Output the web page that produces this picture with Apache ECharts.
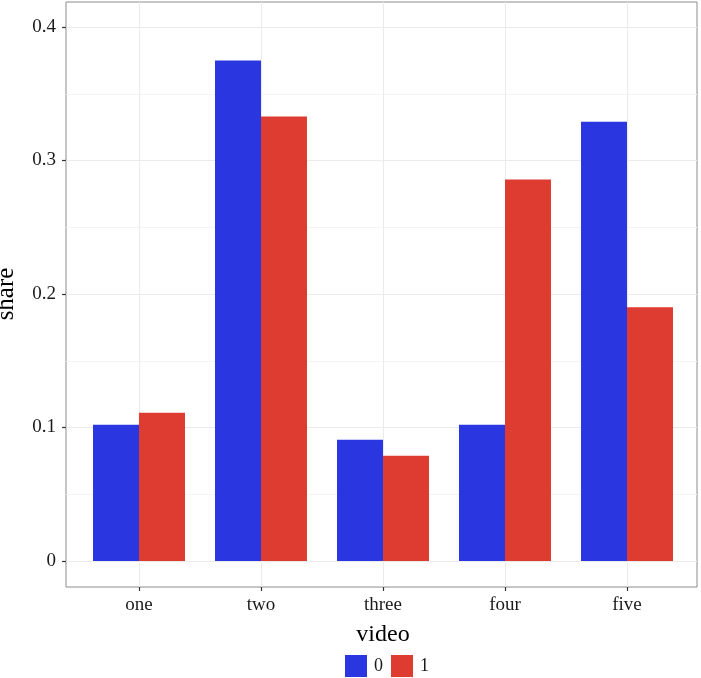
<!DOCTYPE html>
<html>
<head>
<meta charset="utf-8">
<script src="https://cdn.jsdelivr.net/npm/echarts@6/dist/echarts.min.js"></script>
<style>html,body{margin:0;padding:0;background:#fff}#c{width:701px;height:678px}</style>
</head>
<body>
<div id="c"></div>
<script>
const categories = ['one', 'two', 'three', 'four', 'five'];
const share0 = [0.102, 0.375, 0.0909, 0.102, 0.329];
const share1 = [0.111, 0.333, 0.0789, 0.2857, 0.190];
const seriesNames = ['0', '1'];
const yMin = 0, yMax = 0.4, yStep = 0.1;

const FONT = 'Liberation Serif';
const chart = echarts.init(document.getElementById('c'), null, {renderer: 'canvas'});
chart.setOption({
  backgroundColor: '#ffffff',
  animation: false,
  textStyle: {fontFamily: FONT},
  grid: [
    {left: 66, right: 4, top: 2, bottom: 91, outerBoundsMode: 'none', containLabel: false, show: true, borderColor: '#8c8c8c', borderWidth: 1, backgroundColor: 'transparent'},
    {left: 66, right: 4, top: 27, bottom: 117, outerBoundsMode: 'none', containLabel: false},
    {left: 139, right: 74, top: 2, bottom: 91, outerBoundsMode: 'none', containLabel: false},
    {left: 78, right: 13, top: 27, bottom: 117, outerBoundsMode: 'none', containLabel: false}
  ],
  legend: {
    data: seriesNames, left: 345, top: 655, itemWidth: 22, itemHeight: 22, itemGap: 8, icon: 'rect',
    padding: 0,
    textStyle: {fontSize: 18, color: '#1a1a1a', fontFamily: FONT, padding: [0, 0, 0, 2]}
  },
  xAxis: [
    {gridIndex: 0, type: 'value', show: false},
    {gridIndex: 1, type: 'value', show: false, axisLine: {onZero: false}},
    {gridIndex: 2, type: 'category', data: categories, boundaryGap: false,
      axisLine: {show: true, onZero: false, lineStyle: {color: 'rgba(0,0,0,0)'}},
      axisTick: {show: true, inside: false, length: 4, lineStyle: {color: '#333333', width: 1.2}},
      axisLabel: {margin: 9, fontSize: 19, color: '#1a1a1a', fontFamily: FONT},
      splitLine: {show: true, interval: 0, lineStyle: {color: '#ebebeb', width: 1}},
      name: 'video', nameLocation: 'middle', nameGap: 36, nameMoveOverlap: false,
      nameTextStyle: {fontSize: 24, color: '#000', fontFamily: FONT}},
    {gridIndex: 3, type: 'category', data: categories, show: false}
  ],
  yAxis: [
    {gridIndex: 0, type: 'value', show: false},
    {gridIndex: 1, type: 'value', min: yMin, max: yMax, interval: yStep,
      axisLine: {show: true, onZero: false, lineStyle: {color: 'rgba(0,0,0,0)'}},
      axisTick: {show: true, inside: false, length: 4, lineStyle: {color: '#333333', width: 1.2}},
      axisLabel: {margin: 10, fontSize: 19, color: '#1a1a1a', fontFamily: FONT},
      splitLine: {show: true, lineStyle: {color: '#ebebeb', width: 1}},
      minorTick: {show: false, splitNumber: 2},
      minorSplitLine: {show: true, lineStyle: {color: '#f4f4f4', width: 1}},
      name: 'share', nameLocation: 'middle', nameGap: 47, nameMoveOverlap: false,
      nameTextStyle: {fontSize: 25, color: '#000', fontFamily: FONT}},
    {gridIndex: 2, type: 'value', show: false},
    {gridIndex: 3, type: 'value', min: yMin, max: yMax, show: false}
  ],
  series: [
    {name: seriesNames[0], type: 'bar', xAxisIndex: 3, yAxisIndex: 3, data: share0,
      barCategoryGap: '24.6%', barGap: 0, itemStyle: {color: '#2a37e1'}},
    {name: seriesNames[1], type: 'bar', xAxisIndex: 3, yAxisIndex: 3, data: share1,
      barCategoryGap: '24.6%', barGap: 0, itemStyle: {color: '#de3c30'}}
  ]
});
</script>
</body>
</html>
